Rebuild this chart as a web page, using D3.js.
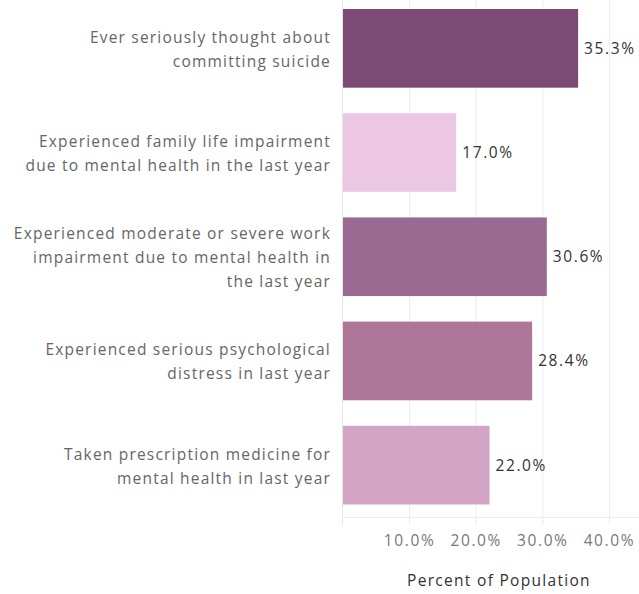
<!DOCTYPE html>
<html><head><meta charset="utf-8">
<script src="https://cdn.jsdelivr.net/npm/d3@7"></script>
<style>body{margin:0;background:#fff}svg{display:block}text{font-family:"Open Sans",sans-serif}</style>
</head><body>
<svg id="c" width="639" height="594"></svg>
<script>
const categories = [
  ["Ever seriously thought about", "committing suicide"],
  ["Experienced family life impairment", "due to mental health in the last year"],
  ["Experienced moderate or severe work", "impairment due to mental health in", "the last year"],
  ["Experienced serious psychological", "distress in last year"],
  ["Taken prescription medicine for", "mental health in last year"]
];
const values = [35.3, 17.0, 30.6, 28.4, 22.0];
const colors = ["#7b4b76", "#ecc7e4", "#9a6a93", "#ae7799", "#d4a4c4"];
const tickValues = [10, 20, 30, 40];
const axisTitle = "Percent of Population";

const svg = d3.select("#c");
const x0 = 343;
const x = d3.scaleLinear().domain([0, 44.5]).range([x0, x0 + 6.66 * 44.5]);
const ids = d3.range(values.length);
const y = d3.scaleBand().domain(ids).range([-3.5, 517]).paddingInner(0.245).paddingOuter(0.12);
const bottom = 517;

svg.append("g").selectAll("line").data(tickValues).join("line")
  .attr("x1", d => x(d)).attr("x2", d => x(d)).attr("y1", 0).attr("y2", bottom)
  .attr("stroke", "#ececec").attr("stroke-width", 1);
svg.append("line").attr("x1", x(0) - 0.5).attr("x2", x(0) - 0.5).attr("y1", 0).attr("y2", bottom + 8)
  .attr("stroke", "#e6e6e6");
svg.append("line").attr("x1", x(0)).attr("x2", 639).attr("y1", bottom + 0.5).attr("y2", bottom + 0.5)
  .attr("stroke", "#ececec");
svg.append("g").selectAll("line").data(tickValues).join("line")
  .attr("x1", d => x(d)).attr("x2", d => x(d)).attr("y1", bottom).attr("y2", bottom + 8)
  .attr("stroke", "#ececec");

svg.append("g").selectAll("rect").data(ids).join("rect")
  .attr("x", x(0)).attr("y", i => y(i))
  .attr("width", i => x(values[i]) - x(0)).attr("height", y.bandwidth())
  .attr("fill", i => colors[i]);

svg.append("g").selectAll("text").data(ids).join("text")
  .attr("x", i => x(values[i]) + 6).attr("y", i => y(i) + y.bandwidth() / 2)
  .attr("dy", "0.35em").attr("font-size", 15.5).attr("letter-spacing", 1.6).attr("fill", "#333")
  .text(i => values[i].toFixed(1) + "%");

const lh = 24;
svg.append("g").selectAll("text").data(ids).join("text")
  .attr("text-anchor", "end").attr("font-size", 15.5).attr("letter-spacing", 1.2).attr("fill", "#666")
  .each(function(i) {
    const lines = categories[i];
    const cy = y(i) + y.bandwidth() / 2;
    const start = cy - (lines.length - 1) * lh / 2;
    d3.select(this).selectAll("tspan").data(lines).join("tspan")
      .attr("x", 331).attr("y", (d, j) => start + j * lh + 1).attr("dy", "0.35em").text(d => d);
  });

svg.append("g").selectAll("text").data(tickValues).join("text")
  .attr("x", d => x(d)).attr("y", 541).attr("dy", "0.35em").attr("text-anchor", "middle")
  .attr("font-size", 15.5).attr("letter-spacing", 1.6).attr("fill", "#777").text(d => d.toFixed(1) + "%");

svg.append("text").attr("x", 499).attr("y", 581).attr("dy", "0.35em").attr("text-anchor", "middle")
  .attr("font-size", 15.5).attr("letter-spacing", 1.3).attr("fill", "#333").text(axisTitle);
</script>
</body></html>
